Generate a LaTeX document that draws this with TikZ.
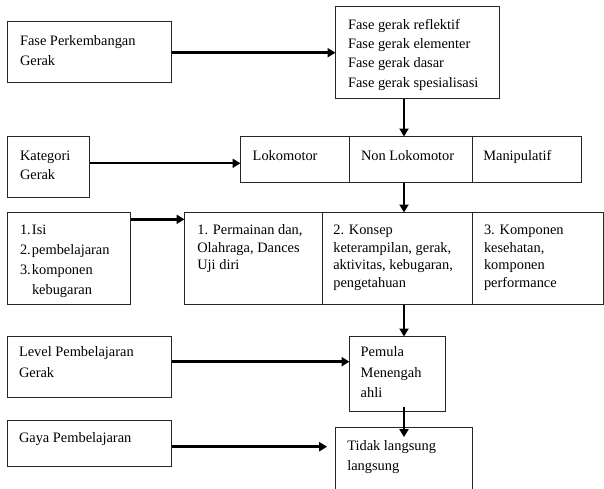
\documentclass[tikz,border=0pt]{standalone}
\usepackage{fontspec}
\setmainfont{Liberation Serif}
\usetikzlibrary{arrows.meta,calc}
\begin{document}
\begin{tikzpicture}[x=1pt,y=-1pt,
  boxn/.style={draw=black!85,line width=1pt,inner sep=0pt,outer sep=0pt,anchor=north west},
  txt/.style={anchor=north west,inner sep=0pt,outer sep=0pt,align=left,font=\fontsize{14.4}{#1}\selectfont},
  conn/.style={-{Triangle[length=8pt,width=9pt]},line width=#1},
  conn/.default=2.8pt]
\clip (0,0) rectangle (604,488);
\fill[white] (0,0) rectangle (604,488);
% boxes
\node[boxn,minimum width=164pt,minimum height=61pt] (b1) at (7.5,21.5) {};
\node[boxn,minimum width=164pt,minimum height=92pt] (b2) at (335.5,6.5) {};
\node[boxn,minimum width=82pt,minimum height=61pt] (kat) at (7.5,136.5) {};
\node[boxn,minimum width=109pt,minimum height=46pt] (lok) at (240.5,136.5) {};
\node[boxn,minimum width=123pt,minimum height=46pt] (non) at (349.5,136.5) {};
\node[boxn,minimum width=109pt,minimum height=46pt] (man) at (472.5,136.5) {};
\node[boxn,minimum width=123pt,minimum height=92pt] (isi) at (7.5,212.5) {};
\node[boxn,minimum width=138pt,minimum height=92pt] (ra) at (184.5,212.5) {};
\node[boxn,minimum width=150pt,minimum height=92pt] (rb) at (322.5,212.5) {};
\node[boxn,minimum width=131pt,minimum height=92pt] (rc) at (472.5,212.5) {};
\node[boxn,minimum width=164pt,minimum height=61pt] (lvl) at (7.5,336.5) {};
\node[boxn,minimum width=96pt,minimum height=75pt] (pem) at (349.5,336.5) {};
\node[boxn,minimum width=164pt,minimum height=46pt] (gaya) at (7.5,420.5) {};
\node[boxn,minimum width=137pt,minimum height=70pt] (tdk) at (335.5,427.5) {};
% texts
\node[txt=20] (t1) at (20,31) {\strut Fase Perkembangan\\Gerak};
\node[txt=19.3] (t2) at (348,15.8) {\strut Fase gerak reflektif\\Fase gerak elementer\\Fase gerak dasar\\Fase gerak spesialisasi};
\node[txt=19] (t3) at (20,146.7) {\strut Kategori\\Gerak};
\node[txt=19] (t4) at (252.7,147.4) {\strut Lokomotor};
\node[txt=19] (t5) at (361,147.4) {\strut Non Lokomotor};
\node[txt=19] (t6) at (483.3,147.4) {\strut Manipulatif};
\node[txt=20.1] (t7) at (20,220) {\strut\makebox[12pt][l]{1.}Isi\\\makebox[12pt][l]{2.}pembelajaran\\\makebox[12pt][l]{3.}komponen\\\hspace*{12pt}kebugaran};
\node[txt=17.4] (t8) at (197.3,222.8) {\strut 1. Permainan dan,\\Olahraga, Dances\\Uji diri};
\node[txt=17.4] (t9) at (333.3,222.8) {\strut 2. Konsep\\keterampilan, gerak,\\aktivitas, kebugaran,\\pengetahuan};
\node[txt=17.4] (t10) at (484,222.8) {\strut 3. Komponen\\kesehatan,\\komponen\\performance};
\node[txt=20.6] (t11) at (19,342.3) {\strut Level Pembelajaran\\Gerak};
\node[txt=20.3] (t12) at (360.7,342.5) {\strut Pemula\\Menengah\\ahli};
\node[txt=19] (t13) at (19,429.4) {\strut Gaya Pembelajaran};
\node[txt=20] (t14) at (347.3,436.7) {\strut Tidak langsung\\langsung};
% connectors
\coordinate (vx) at (404,0);
\coordinate (y1) at (0,52.7);
\coordinate (y2) at (0,163.3);
\coordinate (y3) at (0,219.3);
\coordinate (y4) at (0,361.7);
\coordinate (y5) at (0,446.7);
\draw[conn=2.5pt] (b1.east |- y1) -- (b2.west |- y1);
\draw[conn] (b2.south -| vx) -- (non.north -| vx);
\draw[conn=2.2pt] (kat.east |- y2) -- (lok.west |- y2);
\draw[conn=3.5pt] (isi.east |- y3) -- (ra.west |- y3);
\draw[conn] (non.south -| vx) -- (rb.north -| vx);
\draw[conn] (rb.south -| vx) -- (pem.north -| vx);
\draw[conn=3.5pt] (lvl.east |- y4) -- (pem.west |- y4);
\draw[conn] ($(pem.south -| vx)+(0,-4.7)$) -- ($(tdk.north -| vx)+(0,9.6)$);
\draw[conn=3pt] (gaya.east |- y5) -- ($(tdk.west |- y5)+(-8.4,0)$);
\end{tikzpicture}
\end{document}
